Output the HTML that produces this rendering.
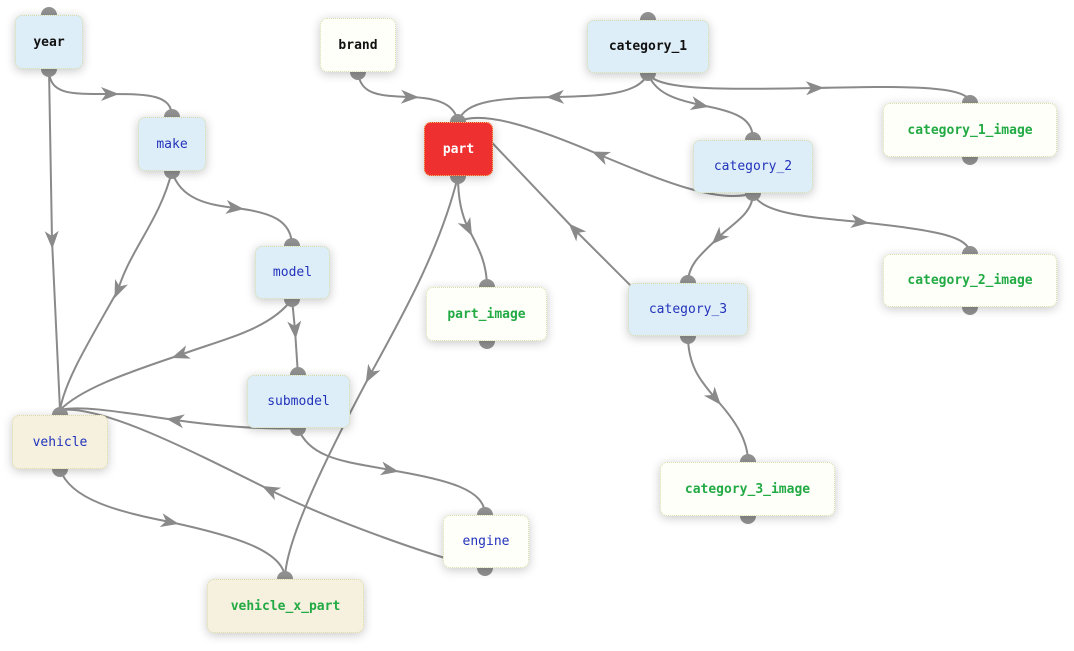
<!DOCTYPE html>
<html><head><meta charset="utf-8"><style>
html,body{margin:0;padding:0;background:#fff;width:1074px;height:651px;overflow:hidden;position:relative}
svg{position:absolute;left:0;top:0}
.n{position:absolute;box-sizing:border-box;border:1px dotted #d8dca8;border-radius:7px;box-shadow:0 2px 10px rgba(0,0,0,.22);display:flex;align-items:center;justify-content:center;font-family:"DejaVu Sans Mono","Liberation Mono",monospace;font-size:13px;z-index:2}
.b{background:#deeef8}.w{background:#fffffa}.c{background:#f6f0de}
.k{color:#111;font-weight:bold}.u{color:#2233bb}.g{color:#22aa44;font-weight:bold}
.r{background:#ee3030;color:#fff;font-weight:bold;border-color:#f5c060}
</style></head><body>
<svg width="1074" height="651">
<defs><marker id="a" markerUnits="userSpaceOnUse" markerWidth="20" markerHeight="16" refX="0" refY="0" viewBox="-10 -8 20 16" orient="auto"><path d="M-9,-7 L9,0 L-9,7 L-4,0 Z" fill="#8a8a8a"/></marker></defs>
<g fill="none" stroke="#8a8a8a" stroke-width="2" marker-mid="url(#a)">
<path d="M49,69 C49,95 70,94 110,94 C150,94 172,95 172,117"/>
<path d="M49,69 L52,240 L60,410"/>
<path d="M172,171 C180,200 210,205 235,208 C270,212 292,220 292,246"/>
<path d="M172,171 C160,220 130,250 118,290 C90,340 65,380 60,410"/>
<path d="M292,299 L295,330 L298,375"/>
<path d="M292,299 C270,330 220,340 180,355 C120,375 80,390 60,410"/>
<path d="M298,428 C260,430 210,425 175,420 C120,412 80,405 60,410"/>
<path d="M298,428 C310,460 350,462 390,470 C450,480 485,490 485,515"/>
<path d="M60,469 C70,500 120,512 170,522 C230,535 285,550 285,579"/>
<path d="M485,568 C440,560 330,520 270,490 C180,445 100,405 60,410"/>
<path d="M458,176 C458,200 462,215 468,228 C480,250 487,265 487,287"/>
<path d="M458,176 C440,250 400,320 370,375 C330,450 285,540 285,579"/>
<path d="M358,72 C360,95 380,96 410,97 C440,98 455,105 458,122"/>
<path d="M648,73 C640,95 600,96 555,97 C500,98 465,100 458,122"/>
<path d="M648,73 C655,90 720,90 815,88 C900,86 970,85 970,103"/>
<path d="M648,73 C655,95 680,100 700,105 C740,112 753,120 753,140"/>
<path d="M753,193 C720,205 660,180 600,155 C530,125 480,110 458,122"/>
<path d="M753,193 C760,215 820,218 860,222 C930,230 970,235 970,254"/>
<path d="M753,193 C753,215 730,225 718,238 C700,255 688,265 688,283"/>
<path d="M640,295 L575,230 L480,130"/>
<path d="M688,336 C688,370 705,385 715,398 C735,420 748,440 748,462"/>
</g>
<g fill="#929292">
<circle cx="49" cy="15" r="8"/><circle cx="49" cy="69" r="8"/>
<circle cx="358" cy="72" r="8"/>
<circle cx="648" cy="20" r="8"/><circle cx="648" cy="73" r="8"/>
<circle cx="172" cy="117" r="8"/><circle cx="172" cy="171" r="8"/>
<circle cx="458" cy="122" r="8"/><circle cx="458" cy="176" r="8"/>
<circle cx="970" cy="103" r="8"/><circle cx="970" cy="157" r="8"/>
<circle cx="753" cy="140" r="8"/><circle cx="753" cy="193" r="8"/>
<circle cx="292" cy="246" r="8"/><circle cx="292" cy="299" r="8"/>
<circle cx="970" cy="254" r="8"/><circle cx="970" cy="307" r="8"/>
<circle cx="487" cy="287" r="8"/><circle cx="487" cy="341" r="8"/>
<circle cx="688" cy="283" r="8"/><circle cx="688" cy="336" r="8"/>
<circle cx="298" cy="375" r="8"/><circle cx="298" cy="428" r="8"/>
<circle cx="60" cy="415" r="8"/><circle cx="60" cy="469" r="8"/>
<circle cx="748" cy="462" r="8"/><circle cx="748" cy="516" r="8"/>
<circle cx="485" cy="515" r="8"/><circle cx="485" cy="568" r="8"/>
<circle cx="285" cy="579" r="8"/>
</g>
</svg>
<div class="n b k" style="left:15px;top:15px;width:68px;height:54px">year</div>
<div class="n w k" style="left:320px;top:18px;width:76px;height:54px">brand</div>
<div class="n b k" style="left:587px;top:20px;width:122px;height:53px">category_1</div>
<div class="n b u" style="left:138px;top:117px;width:68px;height:54px">make</div>
<div class="n r" style="left:424px;top:122px;width:69px;height:54px">part</div>
<div class="n w g" style="left:883px;top:103px;width:174px;height:54px">category_1_image</div>
<div class="n b u" style="left:693px;top:140px;width:120px;height:53px">category_2</div>
<div class="n b u" style="left:255px;top:246px;width:75px;height:53px">model</div>
<div class="n w g" style="left:883px;top:254px;width:174px;height:53px">category_2_image</div>
<div class="n w g" style="left:426px;top:287px;width:121px;height:54px">part_image</div>
<div class="n b u" style="left:628px;top:283px;width:120px;height:53px">category_3</div>
<div class="n b u" style="left:247px;top:375px;width:103px;height:53px">submodel</div>
<div class="n c u" style="left:12px;top:415px;width:96px;height:54px">vehicle</div>
<div class="n w g" style="left:660px;top:462px;width:175px;height:54px">category_3_image</div>
<div class="n w u" style="left:443px;top:515px;width:86px;height:53px">engine</div>
<div class="n c g" style="left:207px;top:579px;width:157px;height:54px">vehicle_x_part</div>
</body></html>
